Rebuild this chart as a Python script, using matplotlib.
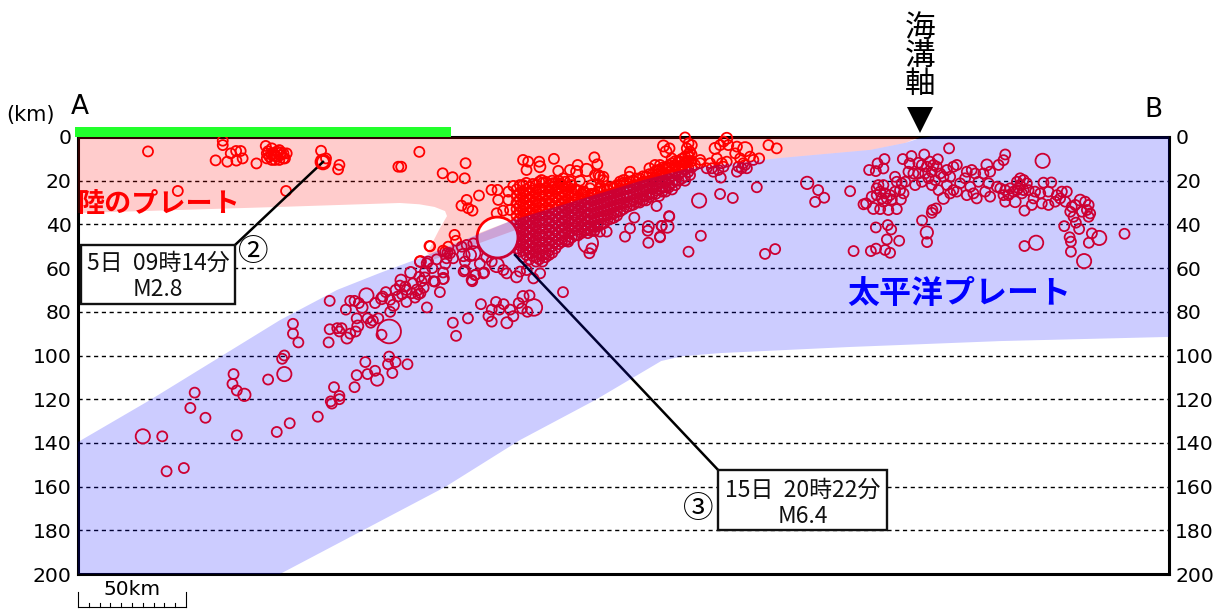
#!/usr/bin/env python3
"""Coupe verticale A-B : sismicité (profondeur en km) et plaques."""

import matplotlib
matplotlib.use("Agg")
import matplotlib.pyplot as plt
from matplotlib.patches import Rectangle

JP = ['Noto Sans CJK JP', 'DejaVu Sans']

# Bornes de la coupe (km)
XMAX = 505
DEPTH_MAX = 200
depth_ticks = list(range(0, 201, 20))

# ------------------------------------------------------------------------
# Plaques (distance km, profondeur km)
# ------------------------------------------------------------------------
pacific_plate = [(0, 139.6), (33.3, 120.4), (65.7, 100.7), (93.5, 83.8), (119.9, 70),
                 (139.8, 62.2), (158.3, 55.4), (201.4, 38), (261.6, 19.7), (283.3, 14.2),
                 (325, 9.6), (366.7, 5.9), (382.9, 2.7), (389.8, 0.5), (396.8, -0.5),
                 (505, -0.3), (505, 91.5), (426.9, 93.4), (357.4, 96.1), (297.2, 98.9),
                 (280, 100.3), (270, 102.5), (239.4, 120.4), (204.6, 138.7), (169.9, 160.2),
                 (93.5, 200), (0, 200)]
land_plate = [(0, 0), (389.8, 0), (382.9, 2.7), (366.7, 5.9), (325, 9.6), (283.3, 14.2),
              (261.6, 19.7), (201.4, 38), (161.6, 53.1), (167.6, 41.6), (170.8, 36.2),
              (169.9, 33.9), (165, 32), (158, 30.8), (149, 30.2), (93.5, 32), (0, 34.8)]
overlap_strip = [(161.6, 53.1), (201.4, 38), (261.6, 19.7), (283.3, 14.2),
                 (261.6, 23), (201.4, 43), (165, 56)]

# ------------------------------------------------------------------------
# Séismes : (distance km, profondeur km)
# ------------------------------------------------------------------------
deep_left = [(39, 137), (41, 153), (49, 151.5), (52, 124), (54, 117), (59, 128.5),
             (72, 108.5), (71.5, 113), (73.5, 116), (73.5, 136.5), (88, 111), (92, 135),
             (98, 131), (95.5, 100), (94.5, 101.5), (99.5, 90), (102, 94), (99.5, 85.5),
             (111, 128), (117, 121), (121, 118.5)]
slab_mid = [(116.5, 75), (116.5, 88), (120, 87.5), (121, 89), (122, 87.5), (116, 94),
            (126, 90), (128.5, 89), (124, 79), (126, 75), (128, 75), (130, 76), (129, 83),
            (134, 83), (135.5, 85), (136.5, 84), (139, 83), (140.5, 90.5), (137.5, 76),
            (142.5, 71), (141, 73), (144.5, 74.5), (144.5, 80), (148, 73), (152, 75.5),
            (149, 68), (151.5, 68.5), (155, 67), (162, 57), (154.5, 71.5), (158.5, 71.5),
            (160, 69), (156, 73.5), (157.5, 72), (161.5, 78), (167.5, 71), (164.5, 66),
            (169, 65), (169, 62), (170, 58), (171, 53), (169, 52), (163, 50), (152, 70),
            (150, 72), (159, 66), (147, 70),
            (133, 103), (129, 109), (134, 108.5), (137.5, 107), (128, 114.5), (118.5, 114.5),
            (121, 120), (117.5, 122), (144, 100.5), (143.5, 104), (147, 103), (152.5, 104),
            (145.5, 108)]
slab_80km = [(186.5, 76.5), (173.5, 85), (180.5, 83), (175, 91), (178.5, 61.5), (184, 63),
             (182.5, 66), (188, 62), (193.5, 75.5), (191.5, 79), (190, 82), (191.5, 84.5),
             (197, 76.5), (195, 79), (200, 79), (201.5, 82), (204, 76), (209, 72.5),
             (205.5, 78.5), (208, 80), (224.5, 71)]
near_main = [(171.4, 50.2), (172.2, 53.2), (169.9, 52.5), (170.6, 55.5), (173.7, 55.5),
             (177.6, 50.2), (179.9, 49.4), (183, 48.7), (179.1, 57), (187.6, 62.4),
             (179.1, 60.9), (182.2, 65.4), (183.8, 63.2), (165.2, 66.2), (160.6, 61.6),
             (158.3, 57), (161.4, 57.8), (196.9, 60.9), (198.4, 62.4), (204.6, 61.6),
             (191.5, 57), (213.9, 62.4), (210.8, 64.7), (207.7, 60.9), (158, 64), (164, 60),
             (175, 47.5), (186, 58), (189, 55), (166, 56)]
above_band = [(158, 6.8), (179.4, 12), (168.8, 16.6), (173.4, 18.4), (179, 18.9), (149.6, 13.6),
              (185.6, 26.8), (179.9, 28.8), (177.5, 31.4), (180.6, 32.6), (182.6, 33.7),
              (191.4, 24.2), (194.2, 24.2), (194.5, 28.8), (199.2, 25), (199.2, 28.8),
              (201.5, 22.4), (193.8, 34.9), (196.8, 33.7), (200, 33.4), (174.3, 44.8),
              (162.7, 49.9), (206, 10.5), (208.4, 11.3), (213.5, 11.3), (207.6, 15.1),
              (220.3, 10), (222.3, 15.5), (227.7, 15.1), (231.3, 12.8), (239, 9.3),
              (240.4, 12.5), (214.6, 19.7), (219.7, 21.2), (224.6, 18.9), (227.7, 20.4),
              (232.3, 20), (239.3, 17.4), (241.6, 18.1), (243, 19.7), (237.7, 22),
              (241.6, 23.5), (233.9, 25), (230.8, 24.2), (226, 22.7), (223, 21.2),
              (218.4, 25), (221.5, 23.5), (243.2, 18.2), (240.9, 17.4), (252.5, 19.7),
              (255.5, 15.9), (255.2, 18.2), (250.9, 20.4), (241.7, 22.7), (237, 23.5),
              (234, 25), (247.8, 23.5), (261.7, 20.4), (264.5, 14.3), (267.1, 12.8),
              (269.4, 12.8), (268.7, 15.1), (273.8, 5.2), (274.8, 9.8), (281, 0.2),
              (282.6, 2.9), (284.1, 3.7), (281.8, 5.2), (283.3, 6.7), (282.6, 9),
              (281.5, 11.3), (278.7, 11.3), (276.4, 12.8), (272.5, 14.3), (274.1, 15.9),
              (279.5, 13.6), (285.6, 12.8), (288, 10.5), (283.3, 17.4)]
below_band = [(273.6, 36.2), (270.2, 40.7), (263.7, 42.9), (269.4, 45.9), (255.5, 41.8),
              (253.2, 45.6), (264, 48.4), (288.3, 45.2), (282.6, 52.5), (297.2, 26.1),
              (303.1, 27.9), (314.2, 23), (297.5, 18.6), (322.7, 51.3), (318, 53.5),
              (237.7, 51), (236.7, 53.2), (226.9, 47.9), (244.7, 43.3), (241.6, 43.3),
              (257.5, 36.9), (267.8, 31.6), (269.4, 45.6), (273.7, 36.4), (270.1, 40.7)]
trench_side = [(288, 12), (291, 14.3), (294.1, 15.9), (296.4, 15.1), (298.8, 13.6), (292.6, 12),
               (295.7, 9.8), (297.2, 3.7), (298.8, 2.1), (301, 3.7), (305, 4.4), (304.2, 7.5),
               (306.5, 9.8), (308, 12), (311.1, 9), (312.6, 10.5), (315.3, 9.8), (319.6, 3.7),
               (323.4, 5.2), (305, 15.9), (307.2, 14.3), (308.8, 12.8), (305.7, 13.6),
               (309.6, 14.3), (300.3, 11.3), (298, 12), (293.4, 14.3)]
shallow_left = [(32.4, 6.6), (67, 1.7), (67, 3.7), (63.7, 10.7), (69.1, 11.3), (73.3, 10.8),
                (70.7, 7.5), (73.2, 6.4), (75.3, 6.4), (76.2, 9.8), (82.6, 12.1), (86.9, 4.1),
                (87.4, 7.5), (87.4, 9.8), (89.7, 5.2), (89.7, 8.2), (89.7, 10.5), (92, 6.7),
                (92, 9), (93.2, 6), (93.2, 10.5), (95.1, 7.5), (95.1, 9.8), (96.6, 7.5),
                (95.8, 9.8), (91.2, 10.5), (88.6, 9), (93.9, 8.3), (90.5, 7.5), (94, 7),
                (88, 6.5), (91, 8.5), (112.5, 6.3), (114.8, 9.8),
                (121, 12.8), (120.4, 14.8), (148.3, 13.6), (46.2, 24.7), (96.3, 24.7)]
outer_rise_a = [(342.6, 24.3), (345.4, 27.8), (341.2, 29.7), (357.4, 24.8), (403.2, 5.2),
                (373.3, 10.1), (370.1, 12.1), (372.8, 14.4), (366.2, 15.1), (369.3, 15.6),
                (381.8, 10.1), (385.8, 8.7), (391.7, 8), (384.9, 12.1), (389, 11.8), (398, 10.2),
                (394.4, 11.3), (396, 12.8), (392.9, 13.6), (390.6, 12.8), (397.5, 13.6),
                (395.2, 15.9), (392.1, 16.7), (389, 16.7), (386.7, 16.7), (384.4, 15.9),
                (399.1, 16.7), (402.2, 15.1), (405.2, 13.6), (406.8, 12.8), (403.7, 18.2),
                (400.6, 18.2), (396.8, 19.7), (393.7, 18.9), (390.6, 20.5), (387.5, 22),
                (382.9, 20.5), (395.2, 22), (398.3, 24.3), (405.2, 24.3), (408.3, 21.2),
                (411.4, 15.9), (413.7, 15.1), (410.6, 18.9), (415.3, 16.7), (416.8, 20.5),
                (413, 22.8), (414.5, 25.8), (411.4, 26.6), (416, 28.1), (406.8, 25), (402.2, 22),
                (403.7, 25.8), (378.2, 18.2), (379, 20.5), (381.3, 21.2), (380.5, 24.3),
                (382.1, 25.8), (380.9, 28.6), (378.2, 25), (370.5, 22), (372.8, 22), (369.7, 23.5),
                (371.3, 25), (373.6, 25.8), (375.9, 26.6), (367.4, 27.3), (369.7, 26.6),
                (372.1, 28.1), (374.4, 28.1), (372.8, 29.6), (376.7, 28.6), (363.6, 30.8),
                (364.8, 30.4), (371.3, 33), (375.1, 33.4), (379, 33), (369.3, 41.4), (374.8, 40.3),
                (376.4, 42.3), (374.4, 46.9), (380.1, 47.5), (367, 52.2), (369.4, 51.1),
                (373.6, 51.7), (375.9, 53), (359, 52.2), (395.5, 33.4), (397.2, 32.7),
                (395.2, 34.7), (390.7, 38.2), (393, 48.1)]
outer_rise_b = [(429.2, 8), (428.4, 10.6), (426.1, 12.8), (422.2, 15.9), (419.1, 16.7),
                (436.1, 18.9), (434.6, 20.5), (437.7, 19.7), (436.1, 22), (439.2, 21.2),
                (435.3, 23.5), (437.7, 24.3), (436.9, 25.8), (434.6, 24.3), (440, 24.3), (433, 25),
                (431.5, 23.5), (429.2, 24.3), (428.4, 26.6), (430.7, 26.6), (429.2, 29.6),
                (426.9, 23.5), (421.5, 21.2), (419.9, 25), (422.2, 27.3), (425.3, 22.8),
                (446.9, 20.9), (450.5, 20.8), (443, 25), (445.4, 25.8), (449.2, 25), (442.3, 28.1),
                (446.1, 30.4), (449.2, 31.1), (441.5, 31.1), (438.1, 33.7), (453.1, 26.6),
                (455.4, 25), (457.7, 25), (454.6, 28.1), (457, 29.6), (452.3, 29.6), (460, 31.9),
                (461.6, 31.1), (466.2, 29.6), (467.8, 31.1), (464.7, 34.2), (467, 33.4),
                (468.5, 35), (459.3, 34.2), (460.8, 36.5), (467.8, 36.5), (461.9, 39.2),
                (456.5, 40.8), (463.4, 42.1), (469.3, 44.1), (467.9, 48.4), (459, 45.9),
                (459.6, 47.9), (459.6, 52.5), (438.1, 49.9), (484.4, 44.3)]

# Bande dense du plan de Wadati : (distance, [profondeurs])
dense_band = [
    (203, [24, 27, 30, 33, 36, 39, 42, 45, 48, 51]),
    (204.5, [22, 25.5, 28.5, 31.5, 34.5, 37.5, 40.5, 43.5, 46.5, 49.5, 52.5]),
    (206, [22, 25, 28, 31, 34, 37, 40, 43, 46, 49, 52, 55]),
    (207.5, [21, 24, 27, 30, 33, 36, 39, 42, 45, 48, 51, 54]),
    (209, [23, 26, 29, 32, 35, 38, 41, 44, 47, 50, 53, 56]),
    (210.5, [21.5, 24.5, 27.5, 30.5, 33.5, 36.5, 39.5, 42.5, 45.5, 48.5, 51.5, 54.5]),
    (212, [22, 25, 28, 31, 34, 37, 40, 43, 46, 49, 52, 55, 57]),
    (213.5, [20.5, 23.5, 26.5, 29.5, 32.5, 35.5, 38.5, 41.5, 44.5, 47.5, 50.5, 53.5, 56]),
    (215, [21, 24, 27, 30, 33, 36, 39, 42, 45, 48, 51, 54, 57]),
    (216.5, [20.5, 23.5, 26.5, 29.5, 32.5, 35.5, 38.5, 41.5, 44.5, 47.5, 50.5, 53.5, 55]),
    (218, [22, 25, 28, 31, 34, 37, 40, 43, 46, 49, 52, 54]),
    (219.5, [20, 23, 26, 29, 32, 35, 38, 41, 44, 47, 50, 53]),
    (221, [21, 24, 27, 30, 33, 36, 39, 42, 45, 48, 51]),
    (222.5, [20, 23, 26, 29, 32, 35, 38, 41, 44, 47, 49]),
    (224, [22, 25, 28, 31, 34, 37, 40, 43, 46, 48]),
    (225.5, [20.5, 23.5, 26.5, 29.5, 32.5, 35.5, 38.5, 41.5, 44.5, 47.5]),
    (227, [23, 26, 29, 32, 35, 38, 41, 44, 47]),
    (228.5, [22, 25, 28, 31, 34, 37, 40, 43, 46]),
    (230, [24, 27, 30, 33, 36, 39, 42, 45]),
    (231.5, [24.5, 27.5, 30.5, 33.5, 36.5, 39.5, 42.5, 45]),
    (233, [26, 29, 32, 35, 38, 41, 44]),
    (234.5, [25.5, 28.5, 31.5, 34.5, 37.5, 40.5, 43]),
    (236, [27, 30, 33, 36, 39, 42, 44]),
    (237.5, [26, 29, 32, 35, 38, 41, 43]),
    (239, [26, 29, 32, 35, 38, 41, 43]),
    (240.5, [25, 28, 31, 34, 37, 40, 41]),
    (242, [25, 28, 31, 34, 37, 40]),
    (243.5, [24, 27, 30, 33, 36, 39.5]),
    (245, [24, 27, 30, 33, 36, 38]),
    (246.5, [23, 26, 29, 32, 35, 37.5]),
    (248, [23, 26, 29, 32, 35, 37]),
    (249.5, [22, 25, 28, 31, 34, 36]),
    (251, [22, 25, 28, 31, 34]),
    (252.5, [21, 24, 27, 30, 33]),
    (254, [21, 24, 27, 30, 32]),
    (255.5, [20.5, 23.5, 26.5, 29.5, 31.5]),
    (257, [20, 23, 26, 29, 31]),
    (258.5, [19, 22, 25, 28, 30]),
    (260, [19, 22, 25, 28, 30]),
    (261.5, [18, 21, 24, 27, 29]),
    (263, [18, 21, 24, 27, 29]),
    (264.5, [17, 20, 23, 26, 27.5]),
    (266, [17, 20, 23, 26]),
    (267.5, [15.5, 18.5, 21.5, 24.5, 26]),
    (269, [15, 18, 21, 24, 27]),
    (270.5, [14, 17, 20, 23, 25]),
    (272, [14, 17, 20, 23, 25]),
    (273.5, [13, 16, 19, 22, 23]),
    (275, [12, 15, 18, 21, 24]),
    (276.5, [11, 14, 17, 20, 22]),
    (278, [11, 14, 17, 20]),
    (279.5, [10, 13, 16, 19]),
    (281, [9, 12, 15, 18, 20]),
    (282.5, [8, 11, 14, 16]),
    (284, [8, 11, 14]),
]

# Événements plus forts : (distance, profondeur, magnitude)
larger_events = [
    (30, 137, 3), (77, 118, 2.5), (95.5, 108.5, 3), (124.5, 92, 2), (129.5, 86.5, 2),
    (131.5, 78, 2), (133.5, 72.5, 3), (140.5, 74, 2), (146, 77, 2), (149.5, 65.5, 2),
    (154, 62, 2), (157, 70, 2), (158.5, 57, 2), (160.5, 64.5, 2), (138.5, 111, 2.5),
    (144, 89, 4.6), (198.5, 85, 2), (206, 73, 2), (211, 78, 3.5), (178.4, 54, 2.5),
    (181.4, 54, 2.5), (183, 53.2, 3), (193.8, 58.6, 3), (169.1, 64.7, 2), (203, 64, 2),
    (213.8, 13.6, 2), (230.8, 15.8, 2), (235.4, 15.1, 2.5), (271, 4.1, 2), (272.2, 6.7, 2),
    (287.5, 29.1, 3), (272.8, 41, 2.5), (264, 41, 2), (294.9, 5.2, 2), (300.3, 0.6, 2),
    (308.8, 5.6, 3), (236.2, 48.6, 4), (337.5, 21, 2.5), (400.6, 28.1, 2), (368.2, 32.7, 2),
    (392.9, 43.7, 2.5), (420.7, 12.8, 2), (446.5, 10.9, 3), (433.8, 29.6, 2), (463.9, 28.9, 2),
    (472.7, 46.2, 3), (465.7, 56.8, 3), (443.5, 48.4, 3),
]

# Séismes annotés
event2 = (113.4, 11.4, 2.8)
event3 = (194, 45.8, 6.4)
label2 = ["5日  09時14分", "M2.8"]
label3 = ["15日  20時22分", "M6.4"]


def marker_area(mag):
    """Aire du marqueur (pt^2) pour une magnitude."""
    return (0.72 * (10 + 1.06 * (mag - 1) ** 2)) ** 2


# ------------------------------------------------------------------------
# Figure
# ------------------------------------------------------------------------
fig = plt.figure(figsize=(12.21, 6.10), dpi=100)
ax = fig.add_axes([78 / 1221, 36 / 610, 1091 / 1221, 437 / 610])
ax.set_xlim(0, XMAX)
ax.set_ylim(DEPTH_MAX, 0)

for s in ax.spines.values():
    s.set_linewidth(2.2)
    s.set_zorder(1)

ax.set_xticks([])
ax.set_yticks(depth_ticks)
ax.tick_params(axis='y', length=0, labelsize=14.7, left=False, right=False,
               labelleft=True, labelright=True, pad=4.5)

for d in depth_ticks[1:-1]:
    ax.plot([0, XMAX], [d, d], color='black', lw=1.0, dashes=(3, 2.6), zorder=1)

# Plaque continentale sous tout le reste
ax.fill(*zip(*land_plate), color='red', alpha=0.2, lw=0, zorder=2)

# Séismes
small = deep_left + slab_mid + slab_80km + near_main + above_band + below_band \
    + trench_side + shallow_left + outer_rise_a + outer_rise_b
for dist, depths in dense_band:
    small = small + [(dist, d) for d in depths]
sx, sy = zip(*small)
ax.scatter(sx, sy, s=marker_area(1), facecolors='none', edgecolors='red',
           linewidths=1.3, zorder=3, clip_on=False)
lx, ly, lm = zip(*larger_events)
ax.scatter(lx, ly, s=[marker_area(m) for m in lm], facecolors='none', edgecolors='red',
           linewidths=1.3, zorder=3, clip_on=False)

# Traits de rappel
ax.plot([72.7, event2[0]], [49.4, event2[1]], color='black', lw=1.8, zorder=3)
ax.plot([202.3, 296.3], [54, 152.4], color='black', lw=1.8, zorder=3)

# Séismes annotés
ax.scatter(event2[0], event2[1], s=marker_area(event2[2]), facecolors='none',
           edgecolors='red', linewidths=2.4, zorder=3.5)
ax.scatter(event3[0], event3[1], s=marker_area(event3[2]), facecolors='white',
           edgecolors='red', linewidths=2.0, zorder=3.5)

# Bande de recouvrement puis plaque Pacifique en transparence
ax.fill(*zip(*overlap_strip), color='red', alpha=0.2, lw=0, zorder=4)
ax.fill(*zip(*pacific_plate), color='blue', alpha=0.2, lw=0, zorder=5, clip_on=False)

# Barre verte
ax.add_patch(Rectangle((-1.4, -4.6), 174.1, 4.6, facecolor='#22ff2c', edgecolor='none',
                       clip_on=False, zorder=6))

# Encadrés
for (x0, y0, w, h) in [(1.4, 49.4, 71.3, 27), (296.3, 152.4, 78.2, 27.5)]:
    ax.add_patch(Rectangle((x0, y0), w, h, facecolor='white', edgecolor='#111111',
                           lw=1.7, zorder=6))
for x, y, txt in [(37, 57.7, label2[0]), (37, 70, label2[1]),
                  (335.4, 161.6, label3[0]), (335.4, 173.5, label3[1])]:
    ax.text(x, y, txt, family=JP, fontsize=16.5, ha='center', va='center',
            color='#111111', zorder=7)
ax.text(81, 53, "②", family=JP, fontsize=22, ha='center', va='center', zorder=7)
ax.text(287, 170.7, "③", family=JP, fontsize=22, ha='center', va='center', zorder=7)

# Noms des plaques
ax.text(37, 30.8, "陸のプレート", family=JP, fontsize=19.5, fontweight='bold', color='red',
        ha='center', va='center', zorder=7)
ax.text(408, 72, "太平洋プレート", family=JP, fontsize=23, fontweight='bold', color='blue',
        ha='center', va='center', zorder=7)

# Titres hors du cadre
ax.text(-22.2, -10, "(km)", fontsize=15, ha='center', va='center', clip_on=False)
ax.text(1, -13.7, "A", fontsize=19, ha='center', va='center', clip_on=False)
ax.text(498, -12.4, "B", fontsize=19, ha='center', va='center', clip_on=False)
ax.text(389.8, -37, "海\n溝\n軸", family=JP, fontsize=22, ha='center', va='center',
        linespacing=0.87, clip_on=False)
ax.plot([389.8], [-7.8], marker='v', ms=18.5, color='black', mew=0, ls='none', clip_on=False)

# Échelle 50 km
ax.text(25, 207, "50km", fontsize=14.5, ha='center', va='center', clip_on=False)
ax.plot([0, 50], [215.1, 215.1], color='black', lw=0.8, clip_on=False)
for km in range(0, 51, 5):
    top = 208.2 if km in (0, 50) else 213.3
    ax.plot([km, km], [top, 215.1], color='black', lw=0.8, clip_on=False)

fig.savefig('out.png', dpi=100)
